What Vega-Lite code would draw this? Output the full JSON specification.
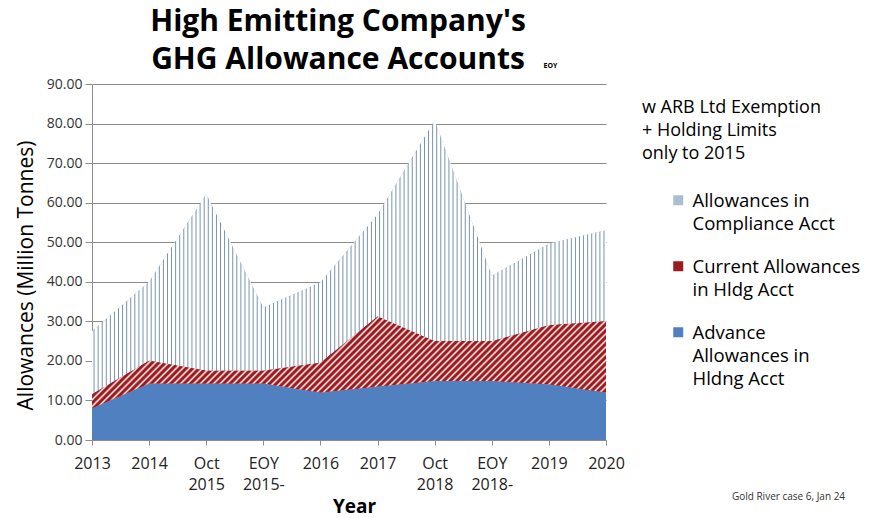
{
  "$schema": "https://vega.github.io/schema/vega-lite/v6.json",
  "width": 514,
  "height": 356,
  "autosize": {"type": "none"},
  "padding": {"left": 92, "top": 84, "right": 263, "bottom": 78},
  "config": {"view": {"stroke": null}, "font": "Open Sans"},
  "title": {
    "text": ["High Emitting Company's", "GHG Allowance Accounts"],
    "font": "Open Sans",
    "fontSize": 30,
    "fontWeight": "bold",
    "color": "#000000",
    "lineHeight": 38,
    "anchor": "middle",
    "frame": "group",
    "dx": -11,
    "dy": 22,
    "offset": 8
  },
  "data": {
    "values": [
      {"period": "2013", "series": "Advance Allowances in Hldng Acct", "k": 1, "value": 8.0},
      {"period": "2013", "series": "Current Allowances in Hldg Acct", "k": 2, "value": 3.6},
      {"period": "2013", "series": "Allowances in Compliance Acct", "k": 3, "value": 15.9},
      {"period": "2014", "series": "Advance Allowances in Hldng Acct", "k": 1, "value": 14.3},
      {"period": "2014", "series": "Current Allowances in Hldg Acct", "k": 2, "value": 5.8},
      {"period": "2014", "series": "Allowances in Compliance Acct", "k": 3, "value": 19.9},
      {"period": "Oct 2015", "series": "Advance Allowances in Hldng Acct", "k": 1, "value": 14.3},
      {"period": "Oct 2015", "series": "Current Allowances in Hldg Acct", "k": 2, "value": 3.3},
      {"period": "Oct 2015", "series": "Allowances in Compliance Acct", "k": 3, "value": 44.5},
      {"period": "EOY 2015-", "series": "Advance Allowances in Hldng Acct", "k": 1, "value": 14.3},
      {"period": "EOY 2015-", "series": "Current Allowances in Hldg Acct", "k": 2, "value": 3.3},
      {"period": "EOY 2015-", "series": "Allowances in Compliance Acct", "k": 3, "value": 15.9},
      {"period": "2016", "series": "Advance Allowances in Hldng Acct", "k": 1, "value": 12.0},
      {"period": "2016", "series": "Current Allowances in Hldg Acct", "k": 2, "value": 7.6},
      {"period": "2016", "series": "Allowances in Compliance Acct", "k": 3, "value": 20.2},
      {"period": "2017", "series": "Advance Allowances in Hldng Acct", "k": 1, "value": 13.5},
      {"period": "2017", "series": "Current Allowances in Hldg Acct", "k": 2, "value": 17.8},
      {"period": "2017", "series": "Allowances in Compliance Acct", "k": 3, "value": 25.7},
      {"period": "Oct 2018", "series": "Advance Allowances in Hldng Acct", "k": 1, "value": 14.9},
      {"period": "Oct 2018", "series": "Current Allowances in Hldg Acct", "k": 2, "value": 10.1},
      {"period": "Oct 2018", "series": "Allowances in Compliance Acct", "k": 3, "value": 55.8},
      {"period": "EOY 2018-", "series": "Advance Allowances in Hldng Acct", "k": 1, "value": 14.9},
      {"period": "EOY 2018-", "series": "Current Allowances in Hldg Acct", "k": 2, "value": 10.1},
      {"period": "EOY 2018-", "series": "Allowances in Compliance Acct", "k": 3, "value": 16.5},
      {"period": "2019", "series": "Advance Allowances in Hldng Acct", "k": 1, "value": 14.1},
      {"period": "2019", "series": "Current Allowances in Hldg Acct", "k": 2, "value": 15.0},
      {"period": "2019", "series": "Allowances in Compliance Acct", "k": 3, "value": 20.5},
      {"period": "2020", "series": "Advance Allowances in Hldng Acct", "k": 1, "value": 12.0},
      {"period": "2020", "series": "Current Allowances in Hldg Acct", "k": 2, "value": 18.1},
      {"period": "2020", "series": "Allowances in Compliance Acct", "k": 3, "value": 22.9}
    ]
  },
  "transform": [
    {"stack": "value", "groupby": ["period"], "sort": [{"field": "k", "order": "ascending"}], "as": ["y0", "y1"]}
  ],
  "layer": [
    {
      "mark": {"type": "area", "interpolate": "linear"},
      "encoding": {
        "x": {
          "field": "period",
          "type": "ordinal",
          "scale": {"type": "point", "padding": 0, "domain": ["2013", "2014", "Oct 2015", "EOY 2015-", "2016", "2017", "Oct 2018", "EOY 2018-", "2019", "2020"]},
          "axis": {
            "orient": "bottom",
            "labelAngle": 0,
            "labelExpr": "split(datum.label, ' ')",
            "labelFont": "Open Sans",
            "labelFontSize": 16,
            "labelColor": "#222222",
            "labelLineHeight": 21,
            "labelPadding": 10,
            "tickSize": 5,
            "tickColor": "#8c8c8c",
            "domainColor": "#8c8c8c",
            "grid": false,
            "title": "Year",
            "titleFont": "Open Sans",
            "titleFontSize": 19,
            "titleFontWeight": "bold",
            "titleColor": "#000000",
            "titleX": 262,
            "titleY": 72,
            "titleBaseline": "alphabetic",
            "titleAlign": "center"
          }
        },
        "y": {
          "field": "y1",
          "type": "quantitative",
          "stack": null,
          "scale": {"domain": [0, 90], "nice": false},
          "axis": {
            "values": [0, 10, 20, 30, 40, 50, 60, 70, 80, 90],
            "format": ".2f",
            "grid": true,
            "gridColor": "#8c8c8c",
            "domainColor": "#8c8c8c",
            "tickColor": "#8c8c8c",
            "tickSize": 7,
            "labelPadding": 3,
            "labelFont": "Open Sans",
            "labelFontSize": 14,
            "labelColor": "#333333",
            "title": "Allowances (Million Tonnes)",
            "titleFont": "Open Sans",
            "titleFontSize": 21,
            "titleFontWeight": "normal",
            "titleColor": "#000000",
            "titleAngle": 270,
            "titleX": -60,
            "titleY": 191,
            "titleBaseline": "alphabetic",
            "titleAlign": "center"
          }
        },
        "y2": {"field": "y0"},
        "fill": {
          "field": "series",
          "type": "nominal",
          "scale": {
            "domain": ["Allowances in Compliance Acct", "Current Allowances in Hldg Acct", "Advance Allowances in Hldng Acct"],
            "range": ["#a9bfd2", "#9b1b1f", "#5080bf"]
          },
          "legend": {
            "orient": "none",
            "legendX": 550,
            "legendY": 15,
            "padding": 0,
            "title": ["w ARB Ltd Exemption", "+ Holding Limits", "only to 2015"],
            "titleFont": "Open Sans",
            "titleFontSize": 18,
            "titleFontWeight": "normal",
            "titleColor": "#000000",
            "titleLineHeight": 23,
            "titlePadding": 28,
            "titleLimit": 300,
            "labelFont": "Open Sans",
            "labelFontSize": 18.5,
            "labelColor": "#000000",
            "labelLimit": 300,
            "labelOffset": 5,
            "labelBaseline": "alphabetic",
            "labelExpr": "datum.label == 'Allowances in Compliance Acct' ? ['Allowances in', 'Compliance Acct'] : datum.label == 'Current Allowances in Hldg Acct' ? ['Current Allowances', 'in Hldg Acct'] : ['Advance', 'Allowances in', 'Hldng Acct']",
            "symbolType": "square",
            "symbolSize": 100,
            "symbolOffset": 27,
            "symbolStrokeWidth": 0,
            "rowPadding": 23,
            "encode": {"labels": {"update": {"dy": {"value": 7}, "lineHeight": {"value": 23}}}}
          }
        }
      }
    },
    {
      "transform": [{"filter": {"field": "series", "equal": "Current Allowances in Hldg Acct"}}],
      "mark": {
        "type": "area",
        "interpolate": "linear",
        "fill": {
          "gradient": "linear", "x1": 0, "y1": 0, "x2": 1.1424, "y2": 0.2045,
          "stops": [
            {"offset":0.00000,"color":"#9b1b1f"},{"offset":0.00400,"color":"#9b1b1f"},{"offset":0.00750,"color":"#fff4f2"},
            {"offset":0.01087,"color":"#9b1b1f"},{"offset":0.01487,"color":"#9b1b1f"},{"offset":0.01837,"color":"#fff4f2"},
            {"offset":0.02174,"color":"#9b1b1f"},{"offset":0.02574,"color":"#9b1b1f"},{"offset":0.02924,"color":"#fff4f2"},
            {"offset":0.03261,"color":"#9b1b1f"},{"offset":0.03661,"color":"#9b1b1f"},{"offset":0.04011,"color":"#fff4f2"},
            {"offset":0.04348,"color":"#9b1b1f"},{"offset":0.04748,"color":"#9b1b1f"},{"offset":0.05098,"color":"#fff4f2"},
            {"offset":0.05435,"color":"#9b1b1f"},{"offset":0.05835,"color":"#9b1b1f"},{"offset":0.06185,"color":"#fff4f2"},
            {"offset":0.06522,"color":"#9b1b1f"},{"offset":0.06922,"color":"#9b1b1f"},{"offset":0.07272,"color":"#fff4f2"},
            {"offset":0.07609,"color":"#9b1b1f"},{"offset":0.08009,"color":"#9b1b1f"},{"offset":0.08359,"color":"#fff4f2"},
            {"offset":0.08696,"color":"#9b1b1f"},{"offset":0.09096,"color":"#9b1b1f"},{"offset":0.09446,"color":"#fff4f2"},
            {"offset":0.09783,"color":"#9b1b1f"},{"offset":0.10183,"color":"#9b1b1f"},{"offset":0.10533,"color":"#fff4f2"},
            {"offset":0.10870,"color":"#9b1b1f"},{"offset":0.11270,"color":"#9b1b1f"},{"offset":0.11620,"color":"#fff4f2"},
            {"offset":0.11957,"color":"#9b1b1f"},{"offset":0.12357,"color":"#9b1b1f"},{"offset":0.12707,"color":"#fff4f2"},
            {"offset":0.13043,"color":"#9b1b1f"},{"offset":0.13443,"color":"#9b1b1f"},{"offset":0.13793,"color":"#fff4f2"},
            {"offset":0.14130,"color":"#9b1b1f"},{"offset":0.14530,"color":"#9b1b1f"},{"offset":0.14880,"color":"#fff4f2"},
            {"offset":0.15217,"color":"#9b1b1f"},{"offset":0.15617,"color":"#9b1b1f"},{"offset":0.15967,"color":"#fff4f2"},
            {"offset":0.16304,"color":"#9b1b1f"},{"offset":0.16704,"color":"#9b1b1f"},{"offset":0.17054,"color":"#fff4f2"},
            {"offset":0.17391,"color":"#9b1b1f"},{"offset":0.17791,"color":"#9b1b1f"},{"offset":0.18141,"color":"#fff4f2"},
            {"offset":0.18478,"color":"#9b1b1f"},{"offset":0.18878,"color":"#9b1b1f"},{"offset":0.19228,"color":"#fff4f2"},
            {"offset":0.19565,"color":"#9b1b1f"},{"offset":0.19965,"color":"#9b1b1f"},{"offset":0.20315,"color":"#fff4f2"},
            {"offset":0.20652,"color":"#9b1b1f"},{"offset":0.21052,"color":"#9b1b1f"},{"offset":0.21402,"color":"#fff4f2"},
            {"offset":0.21739,"color":"#9b1b1f"},{"offset":0.22139,"color":"#9b1b1f"},{"offset":0.22489,"color":"#fff4f2"},
            {"offset":0.22826,"color":"#9b1b1f"},{"offset":0.23226,"color":"#9b1b1f"},{"offset":0.23576,"color":"#fff4f2"},
            {"offset":0.23913,"color":"#9b1b1f"},{"offset":0.24313,"color":"#9b1b1f"},{"offset":0.24663,"color":"#fff4f2"},
            {"offset":0.25000,"color":"#9b1b1f"},{"offset":0.25400,"color":"#9b1b1f"},{"offset":0.25750,"color":"#fff4f2"},
            {"offset":0.26087,"color":"#9b1b1f"},{"offset":0.26487,"color":"#9b1b1f"},{"offset":0.26837,"color":"#fff4f2"},
            {"offset":0.27174,"color":"#9b1b1f"},{"offset":0.27574,"color":"#9b1b1f"},{"offset":0.27924,"color":"#fff4f2"},
            {"offset":0.28261,"color":"#9b1b1f"},{"offset":0.28661,"color":"#9b1b1f"},{"offset":0.29011,"color":"#fff4f2"},
            {"offset":0.29348,"color":"#9b1b1f"},{"offset":0.29748,"color":"#9b1b1f"},{"offset":0.30098,"color":"#fff4f2"},
            {"offset":0.30435,"color":"#9b1b1f"},{"offset":0.30835,"color":"#9b1b1f"},{"offset":0.31185,"color":"#fff4f2"},
            {"offset":0.31522,"color":"#9b1b1f"},{"offset":0.31922,"color":"#9b1b1f"},{"offset":0.32272,"color":"#fff4f2"},
            {"offset":0.32609,"color":"#9b1b1f"},{"offset":0.33009,"color":"#9b1b1f"},{"offset":0.33359,"color":"#fff4f2"},
            {"offset":0.33696,"color":"#9b1b1f"},{"offset":0.34096,"color":"#9b1b1f"},{"offset":0.34446,"color":"#fff4f2"},
            {"offset":0.34783,"color":"#9b1b1f"},{"offset":0.35183,"color":"#9b1b1f"},{"offset":0.35533,"color":"#fff4f2"},
            {"offset":0.35870,"color":"#9b1b1f"},{"offset":0.36270,"color":"#9b1b1f"},{"offset":0.36620,"color":"#fff4f2"},
            {"offset":0.36957,"color":"#9b1b1f"},{"offset":0.37357,"color":"#9b1b1f"},{"offset":0.37707,"color":"#fff4f2"},
            {"offset":0.38043,"color":"#9b1b1f"},{"offset":0.38443,"color":"#9b1b1f"},{"offset":0.38793,"color":"#fff4f2"},
            {"offset":0.39130,"color":"#9b1b1f"},{"offset":0.39530,"color":"#9b1b1f"},{"offset":0.39880,"color":"#fff4f2"},
            {"offset":0.40217,"color":"#9b1b1f"},{"offset":0.40617,"color":"#9b1b1f"},{"offset":0.40967,"color":"#fff4f2"},
            {"offset":0.41304,"color":"#9b1b1f"},{"offset":0.41704,"color":"#9b1b1f"},{"offset":0.42054,"color":"#fff4f2"},
            {"offset":0.42391,"color":"#9b1b1f"},{"offset":0.42791,"color":"#9b1b1f"},{"offset":0.43141,"color":"#fff4f2"},
            {"offset":0.43478,"color":"#9b1b1f"},{"offset":0.43878,"color":"#9b1b1f"},{"offset":0.44228,"color":"#fff4f2"},
            {"offset":0.44565,"color":"#9b1b1f"},{"offset":0.44965,"color":"#9b1b1f"},{"offset":0.45315,"color":"#fff4f2"},
            {"offset":0.45652,"color":"#9b1b1f"},{"offset":0.46052,"color":"#9b1b1f"},{"offset":0.46402,"color":"#fff4f2"},
            {"offset":0.46739,"color":"#9b1b1f"},{"offset":0.47139,"color":"#9b1b1f"},{"offset":0.47489,"color":"#fff4f2"},
            {"offset":0.47826,"color":"#9b1b1f"},{"offset":0.48226,"color":"#9b1b1f"},{"offset":0.48576,"color":"#fff4f2"},
            {"offset":0.48913,"color":"#9b1b1f"},{"offset":0.49313,"color":"#9b1b1f"},{"offset":0.49663,"color":"#fff4f2"},
            {"offset":0.50000,"color":"#9b1b1f"},{"offset":0.50400,"color":"#9b1b1f"},{"offset":0.50750,"color":"#fff4f2"},
            {"offset":0.51087,"color":"#9b1b1f"},{"offset":0.51487,"color":"#9b1b1f"},{"offset":0.51837,"color":"#fff4f2"},
            {"offset":0.52174,"color":"#9b1b1f"},{"offset":0.52574,"color":"#9b1b1f"},{"offset":0.52924,"color":"#fff4f2"},
            {"offset":0.53261,"color":"#9b1b1f"},{"offset":0.53661,"color":"#9b1b1f"},{"offset":0.54011,"color":"#fff4f2"},
            {"offset":0.54348,"color":"#9b1b1f"},{"offset":0.54748,"color":"#9b1b1f"},{"offset":0.55098,"color":"#fff4f2"},
            {"offset":0.55435,"color":"#9b1b1f"},{"offset":0.55835,"color":"#9b1b1f"},{"offset":0.56185,"color":"#fff4f2"},
            {"offset":0.56522,"color":"#9b1b1f"},{"offset":0.56922,"color":"#9b1b1f"},{"offset":0.57272,"color":"#fff4f2"},
            {"offset":0.57609,"color":"#9b1b1f"},{"offset":0.58009,"color":"#9b1b1f"},{"offset":0.58359,"color":"#fff4f2"},
            {"offset":0.58696,"color":"#9b1b1f"},{"offset":0.59096,"color":"#9b1b1f"},{"offset":0.59446,"color":"#fff4f2"},
            {"offset":0.59783,"color":"#9b1b1f"},{"offset":0.60183,"color":"#9b1b1f"},{"offset":0.60533,"color":"#fff4f2"},
            {"offset":0.60870,"color":"#9b1b1f"},{"offset":0.61270,"color":"#9b1b1f"},{"offset":0.61620,"color":"#fff4f2"},
            {"offset":0.61957,"color":"#9b1b1f"},{"offset":0.62357,"color":"#9b1b1f"},{"offset":0.62707,"color":"#fff4f2"},
            {"offset":0.63043,"color":"#9b1b1f"},{"offset":0.63443,"color":"#9b1b1f"},{"offset":0.63793,"color":"#fff4f2"},
            {"offset":0.64130,"color":"#9b1b1f"},{"offset":0.64530,"color":"#9b1b1f"},{"offset":0.64880,"color":"#fff4f2"},
            {"offset":0.65217,"color":"#9b1b1f"},{"offset":0.65617,"color":"#9b1b1f"},{"offset":0.65967,"color":"#fff4f2"},
            {"offset":0.66304,"color":"#9b1b1f"},{"offset":0.66704,"color":"#9b1b1f"},{"offset":0.67054,"color":"#fff4f2"},
            {"offset":0.67391,"color":"#9b1b1f"},{"offset":0.67791,"color":"#9b1b1f"},{"offset":0.68141,"color":"#fff4f2"},
            {"offset":0.68478,"color":"#9b1b1f"},{"offset":0.68878,"color":"#9b1b1f"},{"offset":0.69228,"color":"#fff4f2"},
            {"offset":0.69565,"color":"#9b1b1f"},{"offset":0.69965,"color":"#9b1b1f"},{"offset":0.70315,"color":"#fff4f2"},
            {"offset":0.70652,"color":"#9b1b1f"},{"offset":0.71052,"color":"#9b1b1f"},{"offset":0.71402,"color":"#fff4f2"},
            {"offset":0.71739,"color":"#9b1b1f"},{"offset":0.72139,"color":"#9b1b1f"},{"offset":0.72489,"color":"#fff4f2"},
            {"offset":0.72826,"color":"#9b1b1f"},{"offset":0.73226,"color":"#9b1b1f"},{"offset":0.73576,"color":"#fff4f2"},
            {"offset":0.73913,"color":"#9b1b1f"},{"offset":0.74313,"color":"#9b1b1f"},{"offset":0.74663,"color":"#fff4f2"},
            {"offset":0.75000,"color":"#9b1b1f"},{"offset":0.75400,"color":"#9b1b1f"},{"offset":0.75750,"color":"#fff4f2"},
            {"offset":0.76087,"color":"#9b1b1f"},{"offset":0.76487,"color":"#9b1b1f"},{"offset":0.76837,"color":"#fff4f2"},
            {"offset":0.77174,"color":"#9b1b1f"},{"offset":0.77574,"color":"#9b1b1f"},{"offset":0.77924,"color":"#fff4f2"},
            {"offset":0.78261,"color":"#9b1b1f"},{"offset":0.78661,"color":"#9b1b1f"},{"offset":0.79011,"color":"#fff4f2"},
            {"offset":0.79348,"color":"#9b1b1f"},{"offset":0.79748,"color":"#9b1b1f"},{"offset":0.80098,"color":"#fff4f2"},
            {"offset":0.80435,"color":"#9b1b1f"},{"offset":0.80835,"color":"#9b1b1f"},{"offset":0.81185,"color":"#fff4f2"},
            {"offset":0.81522,"color":"#9b1b1f"},{"offset":0.81922,"color":"#9b1b1f"},{"offset":0.82272,"color":"#fff4f2"},
            {"offset":0.82609,"color":"#9b1b1f"},{"offset":0.83009,"color":"#9b1b1f"},{"offset":0.83359,"color":"#fff4f2"},
            {"offset":0.83696,"color":"#9b1b1f"},{"offset":0.84096,"color":"#9b1b1f"},{"offset":0.84446,"color":"#fff4f2"},
            {"offset":0.84783,"color":"#9b1b1f"},{"offset":0.85183,"color":"#9b1b1f"},{"offset":0.85533,"color":"#fff4f2"},
            {"offset":0.85870,"color":"#9b1b1f"},{"offset":0.86270,"color":"#9b1b1f"},{"offset":0.86620,"color":"#fff4f2"},
            {"offset":0.86957,"color":"#9b1b1f"},{"offset":0.87357,"color":"#9b1b1f"},{"offset":0.87707,"color":"#fff4f2"},
            {"offset":0.88043,"color":"#9b1b1f"},{"offset":0.88443,"color":"#9b1b1f"},{"offset":0.88793,"color":"#fff4f2"},
            {"offset":0.89130,"color":"#9b1b1f"},{"offset":0.89530,"color":"#9b1b1f"},{"offset":0.89880,"color":"#fff4f2"},
            {"offset":0.90217,"color":"#9b1b1f"},{"offset":0.90617,"color":"#9b1b1f"},{"offset":0.90967,"color":"#fff4f2"},
            {"offset":0.91304,"color":"#9b1b1f"},{"offset":0.91704,"color":"#9b1b1f"},{"offset":0.92054,"color":"#fff4f2"},
            {"offset":0.92391,"color":"#9b1b1f"},{"offset":0.92791,"color":"#9b1b1f"},{"offset":0.93141,"color":"#fff4f2"},
            {"offset":0.93478,"color":"#9b1b1f"},{"offset":0.93878,"color":"#9b1b1f"},{"offset":0.94228,"color":"#fff4f2"},
            {"offset":0.94565,"color":"#9b1b1f"},{"offset":0.94965,"color":"#9b1b1f"},{"offset":0.95315,"color":"#fff4f2"},
            {"offset":0.95652,"color":"#9b1b1f"},{"offset":0.96052,"color":"#9b1b1f"},{"offset":0.96402,"color":"#fff4f2"},
            {"offset":0.96739,"color":"#9b1b1f"},{"offset":0.97139,"color":"#9b1b1f"},{"offset":0.97489,"color":"#fff4f2"},
            {"offset":0.97826,"color":"#9b1b1f"},{"offset":0.98226,"color":"#9b1b1f"},{"offset":0.98576,"color":"#fff4f2"},
            {"offset":0.98913,"color":"#9b1b1f"},{"offset":0.99313,"color":"#9b1b1f"},{"offset":0.99663,"color":"#fff4f2"},
            {"offset":1.00000,"color":"#fff4f2"}
          ]
        }
      },
      "encoding": {
        "x": {
          "field": "period",
          "type": "ordinal",
          "scale": {"type": "point", "padding": 0, "domain": ["2013", "2014", "Oct 2015", "EOY 2015-", "2016", "2017", "Oct 2018", "EOY 2018-", "2019", "2020"]},
          "axis": null
        },
        "y": {"field": "y1", "type": "quantitative", "stack": null, "scale": {"domain": [0, 90], "nice": false}, "axis": null},
        "y2": {"field": "y0"}
      }
    },
    {
      "transform": [{"filter": {"field": "series", "equal": "Allowances in Compliance Acct"}}],
      "mark": {
        "type": "area",
        "interpolate": "linear",
        "fill": {
          "gradient": "linear", "x1": 0, "y1": 0, "x2": 1, "y2": 0,
          "stops": [
            {"offset":0,"color":"#fff"},
            {"offset":0.00207,"color":"#fff"},{"offset":0.00397,"color":"#7590a8"},{"offset":0.00587,"color":"#fff"},
            {"offset":0.01000,"color":"#fff"},{"offset":0.01190,"color":"#7590a8"},{"offset":0.01380,"color":"#fff"},
            {"offset":0.01794,"color":"#fff"},{"offset":0.01984,"color":"#7590a8"},{"offset":0.02174,"color":"#fff"},
            {"offset":0.02588,"color":"#fff"},{"offset":0.02778,"color":"#7590a8"},{"offset":0.02968,"color":"#fff"},
            {"offset":0.03381,"color":"#fff"},{"offset":0.03571,"color":"#7590a8"},{"offset":0.03761,"color":"#fff"},
            {"offset":0.04175,"color":"#fff"},{"offset":0.04365,"color":"#7590a8"},{"offset":0.04555,"color":"#fff"},
            {"offset":0.04969,"color":"#fff"},{"offset":0.05159,"color":"#7590a8"},{"offset":0.05349,"color":"#fff"},
            {"offset":0.05762,"color":"#fff"},{"offset":0.05952,"color":"#7590a8"},{"offset":0.06142,"color":"#fff"},
            {"offset":0.06556,"color":"#fff"},{"offset":0.06746,"color":"#7590a8"},{"offset":0.06936,"color":"#fff"},
            {"offset":0.07350,"color":"#fff"},{"offset":0.07540,"color":"#7590a8"},{"offset":0.07730,"color":"#fff"},
            {"offset":0.08143,"color":"#fff"},{"offset":0.08333,"color":"#7590a8"},{"offset":0.08523,"color":"#fff"},
            {"offset":0.08937,"color":"#fff"},{"offset":0.09127,"color":"#7590a8"},{"offset":0.09317,"color":"#fff"},
            {"offset":0.09731,"color":"#fff"},{"offset":0.09921,"color":"#7590a8"},{"offset":0.10111,"color":"#fff"},
            {"offset":0.10524,"color":"#fff"},{"offset":0.10714,"color":"#7590a8"},{"offset":0.10904,"color":"#fff"},
            {"offset":0.11318,"color":"#fff"},{"offset":0.11508,"color":"#7590a8"},{"offset":0.11698,"color":"#fff"},
            {"offset":0.12112,"color":"#fff"},{"offset":0.12302,"color":"#7590a8"},{"offset":0.12492,"color":"#fff"},
            {"offset":0.12905,"color":"#fff"},{"offset":0.13095,"color":"#7590a8"},{"offset":0.13285,"color":"#fff"},
            {"offset":0.13699,"color":"#fff"},{"offset":0.13889,"color":"#7590a8"},{"offset":0.14079,"color":"#fff"},
            {"offset":0.14493,"color":"#fff"},{"offset":0.14683,"color":"#7590a8"},{"offset":0.14873,"color":"#fff"},
            {"offset":0.15286,"color":"#fff"},{"offset":0.15476,"color":"#7590a8"},{"offset":0.15666,"color":"#fff"},
            {"offset":0.16080,"color":"#fff"},{"offset":0.16270,"color":"#7590a8"},{"offset":0.16460,"color":"#fff"},
            {"offset":0.16873,"color":"#fff"},{"offset":0.17063,"color":"#7590a8"},{"offset":0.17253,"color":"#fff"},
            {"offset":0.17667,"color":"#fff"},{"offset":0.17857,"color":"#7590a8"},{"offset":0.18047,"color":"#fff"},
            {"offset":0.18461,"color":"#fff"},{"offset":0.18651,"color":"#7590a8"},{"offset":0.18841,"color":"#fff"},
            {"offset":0.19254,"color":"#fff"},{"offset":0.19444,"color":"#7590a8"},{"offset":0.19634,"color":"#fff"},
            {"offset":0.20048,"color":"#fff"},{"offset":0.20238,"color":"#7590a8"},{"offset":0.20428,"color":"#fff"},
            {"offset":0.20842,"color":"#fff"},{"offset":0.21032,"color":"#7590a8"},{"offset":0.21222,"color":"#fff"},
            {"offset":0.21635,"color":"#fff"},{"offset":0.21825,"color":"#7590a8"},{"offset":0.22015,"color":"#fff"},
            {"offset":0.22429,"color":"#fff"},{"offset":0.22619,"color":"#7590a8"},{"offset":0.22809,"color":"#fff"},
            {"offset":0.23223,"color":"#fff"},{"offset":0.23413,"color":"#7590a8"},{"offset":0.23603,"color":"#fff"},
            {"offset":0.24016,"color":"#fff"},{"offset":0.24206,"color":"#7590a8"},{"offset":0.24396,"color":"#fff"},
            {"offset":0.24810,"color":"#fff"},{"offset":0.25000,"color":"#7590a8"},{"offset":0.25190,"color":"#fff"},
            {"offset":0.25604,"color":"#fff"},{"offset":0.25794,"color":"#7590a8"},{"offset":0.25984,"color":"#fff"},
            {"offset":0.26397,"color":"#fff"},{"offset":0.26587,"color":"#7590a8"},{"offset":0.26777,"color":"#fff"},
            {"offset":0.27191,"color":"#fff"},{"offset":0.27381,"color":"#7590a8"},{"offset":0.27571,"color":"#fff"},
            {"offset":0.27985,"color":"#fff"},{"offset":0.28175,"color":"#7590a8"},{"offset":0.28365,"color":"#fff"},
            {"offset":0.28778,"color":"#fff"},{"offset":0.28968,"color":"#7590a8"},{"offset":0.29158,"color":"#fff"},
            {"offset":0.29572,"color":"#fff"},{"offset":0.29762,"color":"#7590a8"},{"offset":0.29952,"color":"#fff"},
            {"offset":0.30366,"color":"#fff"},{"offset":0.30556,"color":"#7590a8"},{"offset":0.30746,"color":"#fff"},
            {"offset":0.31159,"color":"#fff"},{"offset":0.31349,"color":"#7590a8"},{"offset":0.31539,"color":"#fff"},
            {"offset":0.31953,"color":"#fff"},{"offset":0.32143,"color":"#7590a8"},{"offset":0.32333,"color":"#fff"},
            {"offset":0.32747,"color":"#fff"},{"offset":0.32937,"color":"#7590a8"},{"offset":0.33127,"color":"#fff"},
            {"offset":0.33540,"color":"#fff"},{"offset":0.33730,"color":"#7590a8"},{"offset":0.33920,"color":"#fff"},
            {"offset":0.34334,"color":"#fff"},{"offset":0.34524,"color":"#7590a8"},{"offset":0.34714,"color":"#fff"},
            {"offset":0.35127,"color":"#fff"},{"offset":0.35317,"color":"#7590a8"},{"offset":0.35507,"color":"#fff"},
            {"offset":0.35921,"color":"#fff"},{"offset":0.36111,"color":"#7590a8"},{"offset":0.36301,"color":"#fff"},
            {"offset":0.36715,"color":"#fff"},{"offset":0.36905,"color":"#7590a8"},{"offset":0.37095,"color":"#fff"},
            {"offset":0.37508,"color":"#fff"},{"offset":0.37698,"color":"#7590a8"},{"offset":0.37888,"color":"#fff"},
            {"offset":0.38302,"color":"#fff"},{"offset":0.38492,"color":"#7590a8"},{"offset":0.38682,"color":"#fff"},
            {"offset":0.39096,"color":"#fff"},{"offset":0.39286,"color":"#7590a8"},{"offset":0.39476,"color":"#fff"},
            {"offset":0.39889,"color":"#fff"},{"offset":0.40079,"color":"#7590a8"},{"offset":0.40269,"color":"#fff"},
            {"offset":0.40683,"color":"#fff"},{"offset":0.40873,"color":"#7590a8"},{"offset":0.41063,"color":"#fff"},
            {"offset":0.41477,"color":"#fff"},{"offset":0.41667,"color":"#7590a8"},{"offset":0.41857,"color":"#fff"},
            {"offset":0.42270,"color":"#fff"},{"offset":0.42460,"color":"#7590a8"},{"offset":0.42650,"color":"#fff"},
            {"offset":0.43064,"color":"#fff"},{"offset":0.43254,"color":"#7590a8"},{"offset":0.43444,"color":"#fff"},
            {"offset":0.43858,"color":"#fff"},{"offset":0.44048,"color":"#7590a8"},{"offset":0.44238,"color":"#fff"},
            {"offset":0.44651,"color":"#fff"},{"offset":0.44841,"color":"#7590a8"},{"offset":0.45031,"color":"#fff"},
            {"offset":0.45445,"color":"#fff"},{"offset":0.45635,"color":"#7590a8"},{"offset":0.45825,"color":"#fff"},
            {"offset":0.46239,"color":"#fff"},{"offset":0.46429,"color":"#7590a8"},{"offset":0.46619,"color":"#fff"},
            {"offset":0.47032,"color":"#fff"},{"offset":0.47222,"color":"#7590a8"},{"offset":0.47412,"color":"#fff"},
            {"offset":0.47826,"color":"#fff"},{"offset":0.48016,"color":"#7590a8"},{"offset":0.48206,"color":"#fff"},
            {"offset":0.48620,"color":"#fff"},{"offset":0.48810,"color":"#7590a8"},{"offset":0.49000,"color":"#fff"},
            {"offset":0.49413,"color":"#fff"},{"offset":0.49603,"color":"#7590a8"},{"offset":0.49793,"color":"#fff"},
            {"offset":0.50207,"color":"#fff"},{"offset":0.50397,"color":"#7590a8"},{"offset":0.50587,"color":"#fff"},
            {"offset":0.51000,"color":"#fff"},{"offset":0.51190,"color":"#7590a8"},{"offset":0.51380,"color":"#fff"},
            {"offset":0.51794,"color":"#fff"},{"offset":0.51984,"color":"#7590a8"},{"offset":0.52174,"color":"#fff"},
            {"offset":0.52588,"color":"#fff"},{"offset":0.52778,"color":"#7590a8"},{"offset":0.52968,"color":"#fff"},
            {"offset":0.53381,"color":"#fff"},{"offset":0.53571,"color":"#7590a8"},{"offset":0.53761,"color":"#fff"},
            {"offset":0.54175,"color":"#fff"},{"offset":0.54365,"color":"#7590a8"},{"offset":0.54555,"color":"#fff"},
            {"offset":0.54969,"color":"#fff"},{"offset":0.55159,"color":"#7590a8"},{"offset":0.55349,"color":"#fff"},
            {"offset":0.55762,"color":"#fff"},{"offset":0.55952,"color":"#7590a8"},{"offset":0.56142,"color":"#fff"},
            {"offset":0.56556,"color":"#fff"},{"offset":0.56746,"color":"#7590a8"},{"offset":0.56936,"color":"#fff"},
            {"offset":0.57350,"color":"#fff"},{"offset":0.57540,"color":"#7590a8"},{"offset":0.57730,"color":"#fff"},
            {"offset":0.58143,"color":"#fff"},{"offset":0.58333,"color":"#7590a8"},{"offset":0.58523,"color":"#fff"},
            {"offset":0.58937,"color":"#fff"},{"offset":0.59127,"color":"#7590a8"},{"offset":0.59317,"color":"#fff"},
            {"offset":0.59731,"color":"#fff"},{"offset":0.59921,"color":"#7590a8"},{"offset":0.60111,"color":"#fff"},
            {"offset":0.60524,"color":"#fff"},{"offset":0.60714,"color":"#7590a8"},{"offset":0.60904,"color":"#fff"},
            {"offset":0.61318,"color":"#fff"},{"offset":0.61508,"color":"#7590a8"},{"offset":0.61698,"color":"#fff"},
            {"offset":0.62112,"color":"#fff"},{"offset":0.62302,"color":"#7590a8"},{"offset":0.62492,"color":"#fff"},
            {"offset":0.62905,"color":"#fff"},{"offset":0.63095,"color":"#7590a8"},{"offset":0.63285,"color":"#fff"},
            {"offset":0.63699,"color":"#fff"},{"offset":0.63889,"color":"#7590a8"},{"offset":0.64079,"color":"#fff"},
            {"offset":0.64493,"color":"#fff"},{"offset":0.64683,"color":"#7590a8"},{"offset":0.64873,"color":"#fff"},
            {"offset":0.65286,"color":"#fff"},{"offset":0.65476,"color":"#7590a8"},{"offset":0.65666,"color":"#fff"},
            {"offset":0.66080,"color":"#fff"},{"offset":0.66270,"color":"#7590a8"},{"offset":0.66460,"color":"#fff"},
            {"offset":0.66873,"color":"#fff"},{"offset":0.67063,"color":"#7590a8"},{"offset":0.67253,"color":"#fff"},
            {"offset":0.67667,"color":"#fff"},{"offset":0.67857,"color":"#7590a8"},{"offset":0.68047,"color":"#fff"},
            {"offset":0.68461,"color":"#fff"},{"offset":0.68651,"color":"#7590a8"},{"offset":0.68841,"color":"#fff"},
            {"offset":0.69254,"color":"#fff"},{"offset":0.69444,"color":"#7590a8"},{"offset":0.69634,"color":"#fff"},
            {"offset":0.70048,"color":"#fff"},{"offset":0.70238,"color":"#7590a8"},{"offset":0.70428,"color":"#fff"},
            {"offset":0.70842,"color":"#fff"},{"offset":0.71032,"color":"#7590a8"},{"offset":0.71222,"color":"#fff"},
            {"offset":0.71635,"color":"#fff"},{"offset":0.71825,"color":"#7590a8"},{"offset":0.72015,"color":"#fff"},
            {"offset":0.72429,"color":"#fff"},{"offset":0.72619,"color":"#7590a8"},{"offset":0.72809,"color":"#fff"},
            {"offset":0.73223,"color":"#fff"},{"offset":0.73413,"color":"#7590a8"},{"offset":0.73603,"color":"#fff"},
            {"offset":0.74016,"color":"#fff"},{"offset":0.74206,"color":"#7590a8"},{"offset":0.74396,"color":"#fff"},
            {"offset":0.74810,"color":"#fff"},{"offset":0.75000,"color":"#7590a8"},{"offset":0.75190,"color":"#fff"},
            {"offset":0.75604,"color":"#fff"},{"offset":0.75794,"color":"#7590a8"},{"offset":0.75984,"color":"#fff"},
            {"offset":0.76397,"color":"#fff"},{"offset":0.76587,"color":"#7590a8"},{"offset":0.76777,"color":"#fff"},
            {"offset":0.77191,"color":"#fff"},{"offset":0.77381,"color":"#7590a8"},{"offset":0.77571,"color":"#fff"},
            {"offset":0.77985,"color":"#fff"},{"offset":0.78175,"color":"#7590a8"},{"offset":0.78365,"color":"#fff"},
            {"offset":0.78778,"color":"#fff"},{"offset":0.78968,"color":"#7590a8"},{"offset":0.79158,"color":"#fff"},
            {"offset":0.79572,"color":"#fff"},{"offset":0.79762,"color":"#7590a8"},{"offset":0.79952,"color":"#fff"},
            {"offset":0.80366,"color":"#fff"},{"offset":0.80556,"color":"#7590a8"},{"offset":0.80746,"color":"#fff"},
            {"offset":0.81159,"color":"#fff"},{"offset":0.81349,"color":"#7590a8"},{"offset":0.81539,"color":"#fff"},
            {"offset":0.81953,"color":"#fff"},{"offset":0.82143,"color":"#7590a8"},{"offset":0.82333,"color":"#fff"},
            {"offset":0.82747,"color":"#fff"},{"offset":0.82937,"color":"#7590a8"},{"offset":0.83127,"color":"#fff"},
            {"offset":0.83540,"color":"#fff"},{"offset":0.83730,"color":"#7590a8"},{"offset":0.83920,"color":"#fff"},
            {"offset":0.84334,"color":"#fff"},{"offset":0.84524,"color":"#7590a8"},{"offset":0.84714,"color":"#fff"},
            {"offset":0.85127,"color":"#fff"},{"offset":0.85317,"color":"#7590a8"},{"offset":0.85507,"color":"#fff"},
            {"offset":0.85921,"color":"#fff"},{"offset":0.86111,"color":"#7590a8"},{"offset":0.86301,"color":"#fff"},
            {"offset":0.86715,"color":"#fff"},{"offset":0.86905,"color":"#7590a8"},{"offset":0.87095,"color":"#fff"},
            {"offset":0.87508,"color":"#fff"},{"offset":0.87698,"color":"#7590a8"},{"offset":0.87888,"color":"#fff"},
            {"offset":0.88302,"color":"#fff"},{"offset":0.88492,"color":"#7590a8"},{"offset":0.88682,"color":"#fff"},
            {"offset":0.89096,"color":"#fff"},{"offset":0.89286,"color":"#7590a8"},{"offset":0.89476,"color":"#fff"},
            {"offset":0.89889,"color":"#fff"},{"offset":0.90079,"color":"#7590a8"},{"offset":0.90269,"color":"#fff"},
            {"offset":0.90683,"color":"#fff"},{"offset":0.90873,"color":"#7590a8"},{"offset":0.91063,"color":"#fff"},
            {"offset":0.91477,"color":"#fff"},{"offset":0.91667,"color":"#7590a8"},{"offset":0.91857,"color":"#fff"},
            {"offset":0.92270,"color":"#fff"},{"offset":0.92460,"color":"#7590a8"},{"offset":0.92650,"color":"#fff"},
            {"offset":0.93064,"color":"#fff"},{"offset":0.93254,"color":"#7590a8"},{"offset":0.93444,"color":"#fff"},
            {"offset":0.93858,"color":"#fff"},{"offset":0.94048,"color":"#7590a8"},{"offset":0.94238,"color":"#fff"},
            {"offset":0.94651,"color":"#fff"},{"offset":0.94841,"color":"#7590a8"},{"offset":0.95031,"color":"#fff"},
            {"offset":0.95445,"color":"#fff"},{"offset":0.95635,"color":"#7590a8"},{"offset":0.95825,"color":"#fff"},
            {"offset":0.96239,"color":"#fff"},{"offset":0.96429,"color":"#7590a8"},{"offset":0.96619,"color":"#fff"},
            {"offset":0.97032,"color":"#fff"},{"offset":0.97222,"color":"#7590a8"},{"offset":0.97412,"color":"#fff"},
            {"offset":0.97826,"color":"#fff"},{"offset":0.98016,"color":"#7590a8"},{"offset":0.98206,"color":"#fff"},
            {"offset":0.98620,"color":"#fff"},{"offset":0.98810,"color":"#7590a8"},{"offset":0.99000,"color":"#fff"},
            {"offset":0.99413,"color":"#fff"},{"offset":0.99603,"color":"#7590a8"},{"offset":0.99793,"color":"#fff"},
            {"offset":1,"color":"#fff"}
          ]
        }
      },
      "encoding": {
        "x": {
          "field": "period",
          "type": "ordinal",
          "scale": {"type": "point", "padding": 0, "domain": ["2013", "2014", "Oct 2015", "EOY 2015-", "2016", "2017", "Oct 2018", "EOY 2018-", "2019", "2020"]},
          "axis": {
            "orient": "top",
            "labels": false,
            "ticks": false,
            "domain": false,
            "grid": false,
            "title": "EOY",
            "titleX": 458,
            "titleY": -17,
            "titleAlign": "center",
            "titleBaseline": "alphabetic",
            "titleFont": "Open Sans",
            "titleFontSize": 7,
            "titleFontWeight": "bold",
            "titleColor": "#000000"
          }
        },
        "y": {
          "field": "y1",
          "type": "quantitative",
          "stack": null,
          "scale": {"domain": [0, 90], "nice": false},
          "axis": {
            "orient": "right",
            "labels": false,
            "ticks": false,
            "domain": false,
            "grid": false,
            "title": "Gold River case 6, Jan 24",
            "titleAngle": 0,
            "titleX": 182,
            "titleY": 415,
            "titleAlign": "center",
            "titleBaseline": "alphabetic",
            "titleFont": "Open Sans",
            "titleFontSize": 10,
            "titleFontWeight": "normal",
            "titleColor": "#333333"
          }
        },
        "y2": {"field": "y0"}
      }
    }
  ],
  "resolve": {"axis": {"x": "independent", "y": "independent"}}
}
